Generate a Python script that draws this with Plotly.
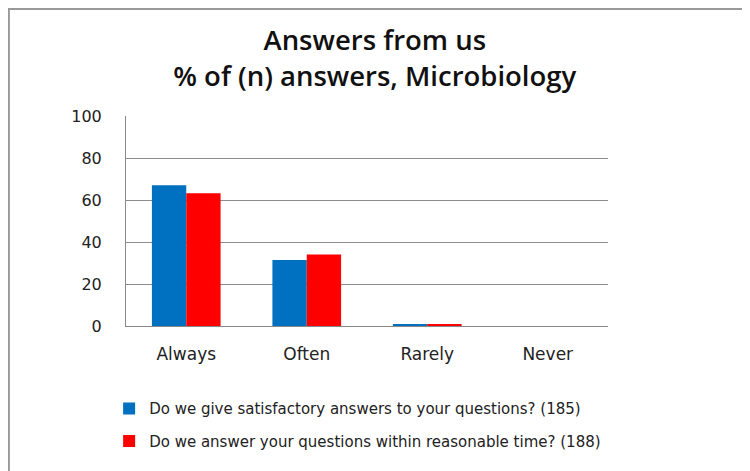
import plotly.graph_objects as go

# answer categories and percentages per question
categories = ["Always", "Often", "Rarely", "Never"]
satisfactory = [67.0, 31.4, 1.0, 0]
reasonable_time = [63.2, 34.1, 1.0, 0]
series_names = [
    "Do we give satisfactory answers to your questions? (185)",
    "Do we answer your questions within reasonable time? (188)",
]
y_ticks = [0, 20, 40, 60, 80, 100]

fig = go.Figure()

fig.add_trace(go.Bar(
    x=categories,
    y=satisfactory,
    name=series_names[0],
    legendgroup="a",
    marker={"color": "#0070c0", "line": {"width": 0}},
))
fig.add_trace(go.Bar(
    x=categories,
    y=reasonable_time,
    name=series_names[1],
    legendgroup="b",
    marker={"color": "#ff0000", "line": {"width": 0}},
))

# page body has an 8px margin, so margins are shifted to compensate
fig.update_layout(
    width=750,
    height=471,
    autosize=False,
    margin={"l": 118, "r": 150, "t": 108, "b": 153},
    paper_bgcolor="white",
    plot_bgcolor="white",
    barmode="group",
    bargap=0.43,
    bargroupgap=0,
    font={"family": "DejaVu Sans", "size": 15, "color": "#222222"},
    title={
        "text": "Answers from us<br>% of (n) answers, Microbiology",
        "x": 0.489,
        "xanchor": "center",
        "y": 0.91,
        "yanchor": "top",
        "font": {"family": "Open Sans", "size": 27.5, "weight": 600, "color": "#111111"},
    },
    legend={
        "x": -0.035,
        "xanchor": "left",
        "y": -0.316,
        "yanchor": "top",
        "orientation": "v",
        "font": {"family": "DejaVu Sans", "size": 15, "color": "#222222"},
        "itemwidth": 30,
        "tracegroupgap": 10,
    },
    showlegend=True,
)

fig.update_xaxes(
    showline=True,
    linecolor="#888888",
    linewidth=1,
    ticks="",
    ticklabelstandoff=13,
    tickfont={"size": 17},
    showgrid=False,
)
fig.update_yaxes(
    range=[0, 100],
    tickvals=y_ticks,
    showline=True,
    linecolor="#888888",
    linewidth=1,
    showgrid=True,
    gridcolor="#8c8c8c",
    gridwidth=1,
    ticks="",
    ticklabelstandoff=20,
    tickfont={"size": 16},
    zeroline=False,
)

# chart area border
fig.add_shape(
    type="rect",
    xref="paper", yref="paper",
    x0=-0.243, x1=1.4, y0=-0.75, y1=1.51,
    line={"color": "#999999", "width": 2},
    fillcolor="rgba(0,0,0,0)",
    layer="below",
)

fig.write_html("out.html")
